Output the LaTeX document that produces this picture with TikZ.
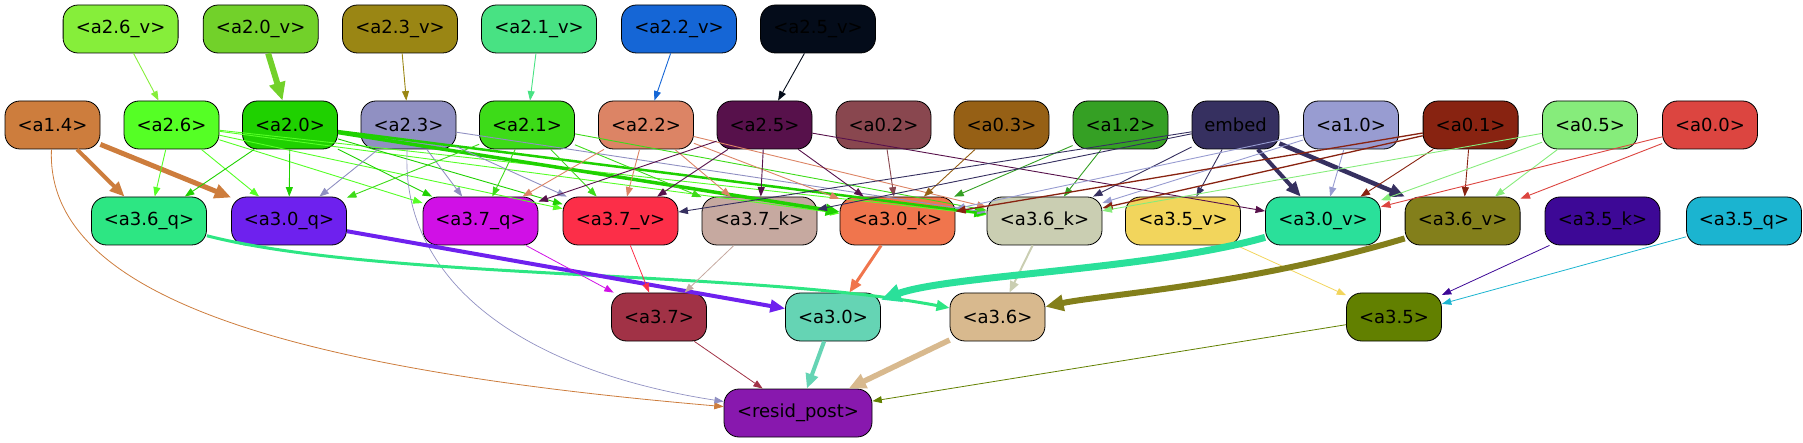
\documentclass[tikz,border=0pt]{standalone}
\usepackage{fontspec}
\setmainfont{DejaVu Sans}
\usetikzlibrary{arrows.meta}
\definecolor{c26v}{HTML}{86EE3A}
\definecolor{c20v}{HTML}{72D12A}
\definecolor{c23v}{HTML}{9A8614}
\definecolor{c21v}{HTML}{48E283}
\definecolor{c22v}{HTML}{1566D6}
\definecolor{c25v}{HTML}{040C1A}
\definecolor{c14}{HTML}{CD7D3D}
\definecolor{c26}{HTML}{55FF25}
\definecolor{c20}{HTML}{1FD100}
\definecolor{c23}{HTML}{9090C2}
\definecolor{c21}{HTML}{3DDB18}
\definecolor{c22}{HTML}{DC8465}
\definecolor{c25}{HTML}{57114B}
\definecolor{c02}{HTML}{89474F}
\definecolor{c03}{HTML}{966015}
\definecolor{c12}{HTML}{35A024}
\definecolor{cem}{HTML}{363060}
\definecolor{c10}{HTML}{989CD1}
\definecolor{c01}{HTML}{882311}
\definecolor{c05}{HTML}{86EC7B}
\definecolor{c00}{HTML}{DC4540}
\definecolor{c36q}{HTML}{2DE683}
\definecolor{c30q}{HTML}{6E21EE}
\definecolor{c37q}{HTML}{D010E6}
\definecolor{c37v}{HTML}{FC2E48}
\definecolor{c37k}{HTML}{C6A9A0}
\definecolor{c30k}{HTML}{F0754D}
\definecolor{c36k}{HTML}{CACEB2}
\definecolor{c35v}{HTML}{F2D55C}
\definecolor{c30v}{HTML}{2AE09A}
\definecolor{c36v}{HTML}{837F1B}
\definecolor{c35k}{HTML}{3D0896}
\definecolor{c35q}{HTML}{1BB4D0}
\definecolor{c37}{HTML}{A13246}
\definecolor{c30}{HTML}{65D4B4}
\definecolor{c36}{HTML}{D8B98E}
\definecolor{c35}{HTML}{628000}
\definecolor{cres}{HTML}{8818AE}
\tikzset{
  nd/.style={draw=black, line width=0.8pt, rounded corners=15pt, minimum height=48pt,
    inner sep=0pt, font=\fontsize{18}{20}\selectfont, text=black},
  wa/.style={nd, minimum width=95pt},
  wb/.style={nd, minimum width=115pt},
  ed/.style={line width=#1pt, -{Triangle[length=8pt 1.7, width=5.5pt 1.7]}},
  ed/.default=0.9
}
\begin{document}
\begin{tikzpicture}[x=1pt,y=-1pt]
\useasboundingbox (0,0) rectangle (1803,443);
% row 0
\node[wb, fill=c26v] (a26v) at (120.6,29) {<a2.6\_v>};
\node[wb, fill=c20v] (a20v) at (260.7,29) {<a2.0\_v>};
\node[wb, fill=c23v] (a23v) at (400,29) {<a2.3\_v>};
\node[wb, fill=c21v] (a21v) at (539,29) {<a2.1\_v>};
\node[wb, fill=c22v] (a22v) at (679,29) {<a2.2\_v>};
\node[wb, fill=c25v] (a25v) at (818,29) {<a2.5\_v>};
% row 1
\node[wa, fill=c14] (a14) at (52.5,125) {<a1.4>};
\node[wa, fill=c26] (a26) at (171.5,125) {<a2.6>};
\node[wa, fill=c20] (a20) at (290,125) {<a2.0>};
\node[wa, fill=c23] (a23) at (408.5,125) {<a2.3>};
\node[wa, fill=c21] (a21) at (527,125) {<a2.1>};
\node[wa, fill=c22] (a22) at (646,125) {<a2.2>};
\node[wa, fill=c25] (a25) at (764.5,125) {<a2.5>};
\node[wa, fill=c02] (a02) at (883.5,125) {<a0.2>};
\node[wa, fill=c03] (a03) at (1001.5,125) {<a0.3>};
\node[wa, fill=c12] (a12) at (1120.5,125) {<a1.2>};
\node[nd, minimum width=87pt, fill=cem] (emb) at (1235.5,125) {embed};
\node[wa, fill=c10] (a10) at (1351,125) {<a1.0>};
\node[wa, fill=c01] (a01) at (1470.6,125) {<a0.1>};
\node[wa, fill=c05] (a05) at (1590,125) {<a0.5>};
\node[wa, fill=c00] (a00) at (1710,125) {<a0.0>};
% row 2
\node[wb, fill=c36q] (a36q) at (149,221) {<a3.6\_q>};
\node[wb, fill=c30q] (a30q) at (289,221) {<a3.0\_q>};
\node[wb, fill=c37q] (a37q) at (480.5,221) {<a3.7\_q>};
\node[wb, fill=c37v] (a37v) at (620.5,221) {<a3.7\_v>};
\node[wb, fill=c37k] (a37k) at (759.5,221) {<a3.7\_k>};
\node[wb, fill=c30k] (a30k) at (897.5,221) {<a3.0\_k>};
\node[wb, fill=c36k] (a36k) at (1044.5,221) {<a3.6\_k>};
\node[wb, fill=c35v] (a35v) at (1183,221) {<a3.5\_v>};
\node[wb, fill=c30v] (a30v) at (1323,221) {<a3.0\_v>};
\node[wb, fill=c36v] (a36v) at (1462.6,221) {<a3.6\_v>};
\node[wb, fill=c35k] (a35k) at (1602.5,221) {<a3.5\_k>};
\node[wb, fill=c35q] (a35q) at (1744,221) {<a3.5\_q>};
% row 3
\node[wa, fill=c37] (a37) at (659,317) {<a3.7>};
\node[wa, fill=c30] (a30) at (833,317) {<a3.0>};
\node[wa, fill=c36] (a36) at (997.5,317) {<a3.6>};
\node[wa, fill=c35] (a35) at (1394,317) {<a3.5>};
% row 4
\node[nd, minimum width=148pt, fill=cres] (res) at (798,413) {<resid\_post>};
% edges row0 -> row1
\draw[ed, c26v] (a26v) -- (a26);
\draw[ed=6, c20v] (a20v) -- (a20);
\draw[ed, c23v] (a23v) -- (a23);
\draw[ed, c21v] (a21v) -- (a21);
\draw[ed, c22v] (a22v) -- (a22);
\draw[ed, c25v] (a25v) -- (a25);
% a1.4
\draw[ed=4, c14] (a14) -- (a36q);
\draw[ed=5, c14] (a14) -- (a30q);
\draw[ed=0.8, c14] (a14) .. controls (45,300) and (300,370) .. (res);
% a2.6
\draw[ed, c26] (a26) -- (a36q);
\draw[ed, c26] (a26) -- (a30q);
\draw[ed, c26] (a26) -- (a37q);
\draw[ed, c26] (a26) -- (a37v);
\draw[ed, c26] (a26) -- (a30k);
\draw[ed, c26] (a26) -- (a36k);
% a2.0
\draw[ed, c20] (a20) -- (a36q);
\draw[ed, c20] (a20) -- (a30q);
\draw[ed, c20] (a20) -- (a37q);
\draw[ed, c20] (a20) -- (a37v);
\draw[ed=3.5, c20] (a20) -- (a30k);
\draw[ed=2.5, c20] (a20) -- (a36k);
% a2.3
\draw[ed, c23] (a23) -- (a30q);
\draw[ed, c23] (a23) -- (a37q);
\draw[ed, c23] (a23) -- (a37v);
\draw[ed, c23] (a23) -- (a36k);
\draw[ed=0.7, c23] (a23) .. controls (400,280) and (520,370) .. (res);
% a2.1
\draw[ed, c21] (a21) -- (a30q);
\draw[ed, c21] (a21) -- (a37q);
\draw[ed, c21] (a21) -- (a37v);
\draw[ed, c21] (a21) -- (a37k);
\draw[ed, c21] (a21) -- (a36k);
% a2.2
\draw[ed, c22] (a22) -- (a37q);
\draw[ed, c22] (a22) -- (a37v);
\draw[ed, c22] (a22) -- (a37k);
\draw[ed, c22] (a22) -- (a30k);
\draw[ed, c22] (a22) -- (a36k);
% a2.5
\draw[ed, c25] (a25) -- (a37q);
\draw[ed, c25] (a25) -- (a37v);
\draw[ed, c25] (a25) -- (a37k);
\draw[ed, c25] (a25) -- (a30k);
\draw[ed, c25] (a25) -- (a30v);
% a0.2 a0.3 a1.2
\draw[ed, c02] (a02) -- (a30k);
\draw[ed, c03] (a03) -- (a30k);
\draw[ed, c12] (a12) -- (a30k);
\draw[ed, c12] (a12) -- (a36k);
% embed
\draw[ed, cem] (emb) -- (a37v);
\draw[ed, cem] (emb) -- (a37k);
\draw[ed, cem] (emb) -- (a36k);
\draw[ed, cem] (emb) -- (a35v);
\draw[ed=4, cem] (emb) -- (a30v);
\draw[ed=4.5, cem] (emb) -- (a36v);
% a1.0
\draw[ed, c10] (a10) -- (a30k);
\draw[ed, c10] (a10) -- (a36k);
\draw[ed, c10] (a10) -- (a30v);
% a0.1
\draw[ed=1.3, c01] (a01) -- (a30k);
\draw[ed=1.3, c01] (a01) -- (a36k);
\draw[ed, c01] (a01) -- (a30v);
\draw[ed, c01] (a01) -- (a36v);
% a0.5
\draw[ed, c05] (a05) -- (a36k);
\draw[ed, c05] (a05) -- (a30v);
\draw[ed, c05] (a05) -- (a36v);
% a0.0
\draw[ed, c00] (a00) -- (a30v);
\draw[ed, c00] (a00) -- (a36v);
% row2 -> row3
\draw[ed=3, c36q] (a36q) .. controls (380,280) and (750,270) .. (a36);
\draw[ed=4, c30q] (a30q) -- (a30);
\draw[ed=0.8, c37q] (a37q) -- (a37);
\draw[ed=0.8, c37v] (a37v) -- (a37);
\draw[ed=0.8, c37k] (a37k) -- (a37);
\draw[ed=3, c30k] (a30k) -- (a30);
\draw[ed=2, c36k] (a36k) -- (a36);
\draw[ed=0.8, c35v] (a35v) -- (a35);
\draw[ed=7, c30v] (a30v) .. controls (1150,270) and (950,275) .. (a30);
\draw[ed=6, c36v] (a36v) .. controls (1250,285) and (1100,295) .. (a36);
\draw[ed=0.8, c35k] (a35k) -- (a35);
\draw[ed=0.8, c35q] (a35q) -- (a35);
% row3 -> resid
\draw[ed=0.8, c37] (a37) -- (res);
\draw[ed=4, c30] (a30) -- (res);
\draw[ed=5.5, c36] (a36) -- (res);
\draw[ed=0.8, c35] (a35) -- (res);
\end{tikzpicture}
\end{document}
